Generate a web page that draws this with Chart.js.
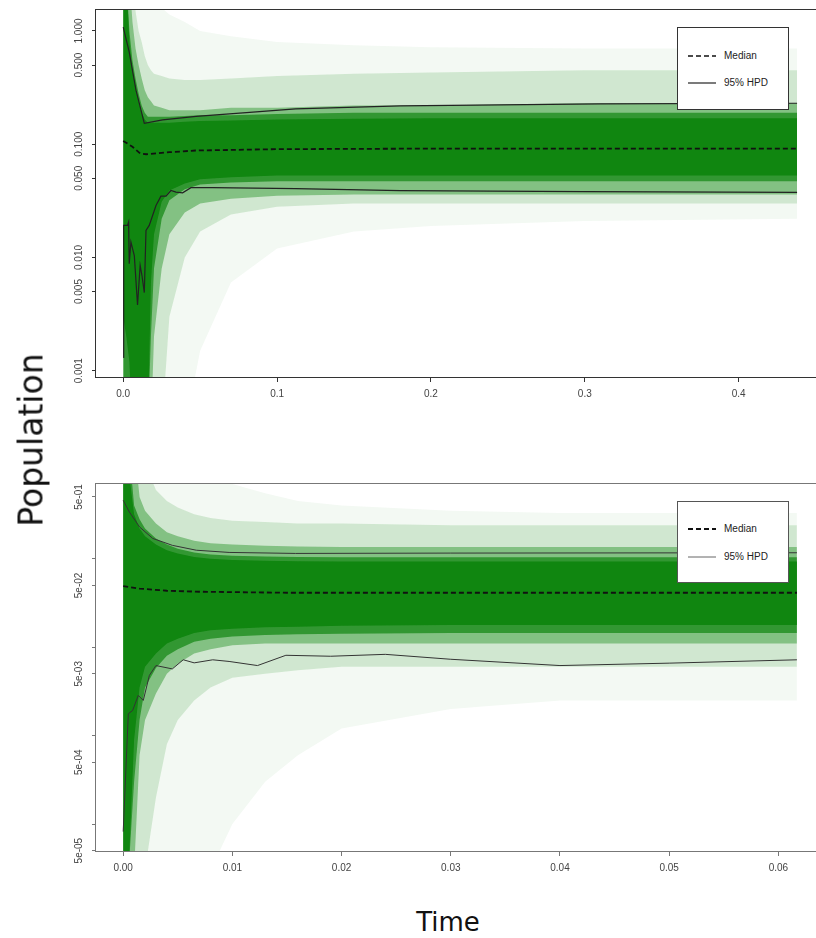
<!DOCTYPE html>
<html>
<head>
<meta charset="utf-8">
<script src="https://cdn.jsdelivr.net/npm/chart.js@4.4.1/dist/chart.umd.min.js"></script>
<style>
  body { margin: 0; width: 816px; height: 938px; overflow: hidden; position: relative; background: #fff; font-family: "Liberation Sans", Arial, sans-serif; }
  canvas { position: absolute; left: 0; }
  #cTop { top: 0; }
  #cBot { top: 470px; }
  .lg { position: absolute; left: 677px; width: 110px; background: #fff; border: 1px solid #333; font-size: 10px; color: #222; }
  .lg .row { position: absolute; left: 10px; height: 12px; line-height: 12px; }
  .lg svg { position: absolute; left: 0; top: 5px; }
  .lg span { position: absolute; left: 36px; white-space: nowrap; }
  .ttl { position: absolute; font-family: "DejaVu Sans", sans-serif; color: #111; white-space: nowrap; }
</style>
</head>
<body>
<canvas id="cTop" width="830" height="410"></canvas>
<canvas id="cBot" width="830" height="410"></canvas>

<div class="lg" style="top:27px;height:81px">
  <div class="row" style="top:22px"><svg width="28" height="3"><line x1="0" y1="1" x2="28" y2="1" stroke="#111" stroke-width="1.6" stroke-dasharray="5,3"/></svg><span>Median</span></div>
  <div class="row" style="top:49px"><svg width="28" height="3"><line x1="0" y1="1" x2="28" y2="1" stroke="#222" stroke-width="1.2"/></svg><span>95% HPD</span></div>
</div>
<div class="lg" style="top:501px;height:80px;border-color:#555">
  <div class="row" style="top:21px"><svg width="28" height="3"><line x1="0" y1="1" x2="28" y2="1" stroke="#111" stroke-width="1.8" stroke-dasharray="5,3"/></svg><span>Median</span></div>
  <div class="row" style="top:49px"><svg width="28" height="3"><line x1="0" y1="1" x2="28" y2="1" stroke="#666" stroke-width="1"/></svg><span>95% HPD</span></div>
</div>

<div class="ttl" style="left:31px;top:440px;font-size:33px;transform:translate(-50%,-50%) rotate(-90deg)">Population</div>
<div class="ttl" style="left:448px;top:922px;font-size:26px;transform:translate(-50%,-50%)">Time</div>

<script>
// ---- top panel (whole time range) ----
const topXTicks = [0, 0.1, 0.2, 0.3, 0.4];
const topXLbl   = ['0.0', '0.1', '0.2', '0.3', '0.4'];
const topYTicks = [0.001, 0.005, 0.01, 0.05, 0.1, 0.5, 1];
const topYLbl   = ['0.001', '0.005', '0.010', '0.050', '0.100', '0.500', '1.000'];

const topMedT = [0, 0.006, 0.011, 0.015, 0.03, 0.047, 0.1, 0.2, 0.3, 0.438];
const topMed  = [0.107, 0.095, 0.083, 0.0816, 0.085, 0.088, 0.0905, 0.0915, 0.0915, 0.0915];

const topHiT = [0, 0.0039, 0.0083, 0.0137, 0.0256, 0.0473, 0.08, 0.112, 0.18, 0.31, 0.438];
const topHi  = [1.08, 0.65, 0.30, 0.153, 0.164, 0.176, 0.19, 0.205, 0.218, 0.227, 0.23];

const topLoT = [0, 0.0003, 0.0028, 0.0035, 0.0039, 0.005, 0.0061, 0.0072, 0.0093, 0.011, 0.0122, 0.0137,
                0.0148, 0.0169, 0.0213, 0.0245, 0.0278, 0.031, 0.0343, 0.0386, 0.044, 0.058, 0.112, 0.18, 0.3, 0.438];
const topLo  = [0.00131, 0.0192, 0.0192, 0.0206, 0.0088, 0.0137, 0.0119, 0.0104, 0.0038, 0.0085, 0.0069, 0.0049,
                0.0173, 0.0192, 0.0288, 0.0348, 0.0348, 0.039, 0.0378, 0.0372, 0.0413, 0.0413, 0.0405, 0.039, 0.0381, 0.0376];

// density of the trajectories, as nested envelopes (darkest inside)
const topBandT   = [0, 0.002, 0.004, 0.006, 0.008, 0.010, 0.012, 0.014, 0.016, 0.018, 0.020, 0.025, 0.030, 0.040, 0.050, 0.070, 0.100, 0.150, 0.200, 0.300, 0.438];
const topCoreHi  = [3, 3, 0.8, 0.45, 0.32, 0.24, 0.19, 0.165, 0.155, 0.155, 0.155, 0.155, 0.155, 0.158, 0.16, 0.162, 0.165, 0.168, 0.17, 0.17, 0.17];
const topCoreLo  = [0.003, 0.002, 0.0012, 0.0003, 0.0003, 0.0003, 0.0003, 0.0003, 0.0003, 0.006, 0.016, 0.031, 0.039, 0.045, 0.049, 0.051, 0.053, 0.053, 0.053, 0.053, 0.053];
const topDenseHi = [3, 3, 1.0, 0.55, 0.38, 0.28, 0.22, 0.19, 0.175, 0.175, 0.175, 0.175, 0.175, 0.178, 0.18, 0.18, 0.185, 0.19, 0.19, 0.19, 0.19];
const topDenseLo = [0.0003, 0.0003, 0.0003, 0.0003, 0.0003, 0.0003, 0.0003, 0.0003, 0.0003, 0.002, 0.008, 0.022, 0.032, 0.04, 0.044, 0.046, 0.047, 0.047, 0.047, 0.047, 0.047];
const topMidHi   = [3, 3, 3, 1.2, 0.7, 0.5, 0.38, 0.3, 0.26, 0.24, 0.22, 0.21, 0.2, 0.2, 0.2, 0.21, 0.21, 0.22, 0.22, 0.23, 0.23];
const topMidLo   = [0.0003, 0.0003, 0.0003, 0.0003, 0.0003, 0.0003, 0.0003, 0.0003, 0.0003, 0.0003, 0.002, 0.008, 0.016, 0.025, 0.03, 0.033, 0.035, 0.036, 0.036, 0.036, 0.036];
const topLtHi    = [3, 3, 3, 3, 1.5, 1.0, 0.8, 0.6, 0.5, 0.45, 0.42, 0.4, 0.38, 0.37, 0.37, 0.38, 0.4, 0.42, 0.43, 0.45, 0.45];
const topLtLo    = [0.0003, 0.0003, 0.0003, 0.0003, 0.0003, 0.0003, 0.0003, 0.0003, 0.0003, 0.0003, 0.0003, 0.0003, 0.003, 0.01, 0.017, 0.024, 0.028, 0.03, 0.03, 0.03, 0.03];
const topFtHi    = [3, 3, 3, 3, 3, 3, 3, 3, 3, 3, 2, 1.6, 1.4, 1.2, 1.0, 0.9, 0.8, 0.75, 0.72, 0.7, 0.7];
const topFtLo    = [0.0003, 0.0003, 0.0003, 0.0003, 0.0003, 0.0003, 0.0003, 0.0003, 0.0003, 0.0003, 0.0003, 0.0003, 0.0003, 0.0003, 0.0015, 0.006, 0.012, 0.017, 0.019, 0.021, 0.022];

// ---- bottom panel (early times) ----
const botXTicks = [0, 0.01, 0.02, 0.03, 0.04, 0.05, 0.06];
const botXLbl   = ['0.00', '0.01', '0.02', '0.03', '0.04', '0.05', '0.06'];
const botYTicks = [5e-5, 1e-4, 5e-4, 1e-3, 5e-3, 1e-2, 5e-2, 1e-1, 5e-1];
const botYLbl   = ['5e-05', '', '5e-04', '', '5e-03', '', '5e-02', '', '5e-01'];

const botMedT = [0, 0.0015, 0.004, 0.007, 0.015, 0.03, 0.0617];
const botMed  = [0.049, 0.046, 0.0435, 0.0424, 0.0413, 0.0413, 0.0413];

const botHiT = [0, 0.00056, 0.0015, 0.0027, 0.0045, 0.0067, 0.0097, 0.0158, 0.03, 0.0617];
const botHi  = [0.459, 0.339, 0.229, 0.17, 0.142, 0.125, 0.118, 0.115, 0.116, 0.117];

const botLoT = [0, 0.00047, 0.00086, 0.00138, 0.00184, 0.0024, 0.003, 0.0045, 0.0055, 0.0065, 0.0082, 0.0097,
                0.0123, 0.0149, 0.019, 0.024, 0.03, 0.04, 0.05, 0.0617];
const botLo  = [0.000082, 0.00177, 0.00192, 0.00285, 0.0025, 0.0048, 0.0062, 0.00568, 0.00721, 0.00665, 0.0072, 0.0069,
                0.0062, 0.0081, 0.0079, 0.0083, 0.0073, 0.0062, 0.0066, 0.0072];

const botBandT   = [0, 0.0005, 0.001, 0.0015, 0.002, 0.003, 0.004, 0.005, 0.0065, 0.008, 0.010, 0.013, 0.016, 0.02, 0.03, 0.04, 0.05, 0.0617];
const botCoreHi  = [2, 1, 0.32, 0.22, 0.18, 0.145, 0.125, 0.115, 0.105, 0.1, 0.097, 0.095, 0.094, 0.093, 0.093, 0.093, 0.093, 0.093];
const botCoreLo  = [0.00003, 0.00003, 0.0009, 0.0035, 0.006, 0.0085, 0.011, 0.0125, 0.0145, 0.0155, 0.0162, 0.0168, 0.017, 0.0175, 0.0178, 0.0178, 0.0178, 0.0178];
const botDenseHi = [2, 2, 0.4, 0.28, 0.22, 0.17, 0.145, 0.13, 0.118, 0.112, 0.108, 0.106, 0.105, 0.104, 0.104, 0.104, 0.104, 0.104];
const botDenseLo = [0.00003, 0.00003, 0.0003, 0.0015, 0.0035, 0.0058, 0.008, 0.0095, 0.0115, 0.0125, 0.0132, 0.0137, 0.014, 0.0142, 0.0145, 0.0145, 0.0145, 0.0145];
const botMidHi   = [2, 2, 2, 0.5, 0.35, 0.25, 0.2, 0.18, 0.16, 0.15, 0.145, 0.14, 0.138, 0.136, 0.136, 0.136, 0.136, 0.136];
const botMidLo   = [0.00003, 0.00003, 0.00003, 0.0006, 0.0015, 0.003, 0.005, 0.0065, 0.0085, 0.0095, 0.0105, 0.011, 0.011, 0.011, 0.011, 0.011, 0.011, 0.011];
const botLtHi    = [2, 2, 2, 2, 1.2, 0.6, 0.45, 0.38, 0.32, 0.29, 0.27, 0.26, 0.25, 0.25, 0.24, 0.24, 0.24, 0.24];
const botLtLo    = [0.00003, 0.00003, 0.00003, 0.00003, 0.00003, 0.0002, 0.0008, 0.0015, 0.0025, 0.0035, 0.0045, 0.005, 0.0055, 0.006, 0.006, 0.006, 0.006, 0.006];
const botFtHi    = [2, 2, 2, 2, 2, 2, 2, 2, 1.5, 1.0, 0.7, 0.55, 0.45, 0.4, 0.35, 0.33, 0.33, 0.33];
const botFtLo    = [0.00003, 0.00003, 0.00003, 0.00003, 0.00003, 0.00003, 0.00003, 0.00003, 0.00003, 0.00003, 0.0001, 0.0003, 0.0006, 0.0012, 0.002, 0.0025, 0.0025, 0.0025];

const GREEN = '16,134,16';
const pts = (ts, vs) => ts.map((t, i) => ({ x: t, y: vs[i] }));

function band(t, hi, lo, alpha, order) {
  const clear = 'rgba(0,0,0,0)';
  return [
    { data: pts(t, hi), fill: '+1', backgroundColor: `rgba(${GREEN},${alpha})`, borderColor: clear, borderWidth: 1, pointRadius: 0, order },
    { data: pts(t, lo), fill: false, borderColor: clear, borderWidth: 1, pointRadius: 0, order },
  ];
}

function line(t, v, color, width, dash) {
  return { data: pts(t, v), fill: false, borderColor: color, borderWidth: width, borderDash: dash || [], pointRadius: 0, tension: 0, order: 0 };
}

const boxPlugin = {
  id: 'box',
  afterDatasetsDraw(chart, args, opts) {
    const { ctx, chartArea: a } = chart;
    ctx.save();
    ctx.strokeStyle = opts.color;
    ctx.lineWidth = 1;
    ctx.strokeRect(Math.round(a.left) - 0.5, Math.round(a.top) + 0.5, Math.round(a.right - a.left), Math.round(a.bottom - a.top));
    ctx.restore();
  }
};

function makeChart(id, cfg) {
  const font = { family: '"Liberation Sans", Arial, sans-serif', size: 10 };
  return new Chart(document.getElementById(id), {
    type: 'line',
    data: { datasets: cfg.datasets },
    plugins: [boxPlugin],
    options: {
      responsive: false, animation: false, devicePixelRatio: 1,
      layout: { padding: { top: cfg.padTop, right: 6, left: 0, bottom: 0 } },
      plugins: { legend: { display: false }, tooltip: { enabled: false }, box: { color: cfg.axisColor } },
      scales: {
        x: {
          type: 'linear', min: cfg.xMin, max: cfg.xMax,
          afterBuildTicks: s => { s.ticks = cfg.xTicks.map(v => ({ value: v })); },
          afterFit: s => { s.height = cfg.xAxisH; },
          ticks: { autoSkip: false, maxRotation: 0, padding: 6, color: '#444', font, callback: (v, i) => cfg.xLbl[i] },
          grid: { drawOnChartArea: false, tickLength: 5, color: cfg.axisColor },
          border: { display: false },
        },
        y: {
          type: 'logarithmic', min: cfg.yMin, max: cfg.yMax,
          afterBuildTicks: s => { s.ticks = cfg.yTicks.map(v => ({ value: v })); },
          afterFit: s => { s.width = 96; },
          ticks: { autoSkip: false, minRotation: 90, maxRotation: 90, crossAlign: 'center', padding: 0, color: '#444', font, callback: (v, i) => cfg.yLbl[i] },
          grid: { drawOnChartArea: false, tickLength: 4, color: cfg.axisColor },
          border: { display: false },
        },
      },
    },
  });
}

makeChart('cTop', {
  padTop: 9, xAxisH: 33, axisColor: '#333',
  xMin: -0.0177, xMax: 0.4555, yMin: 0.00088, yMax: 1.564,
  xTicks: topXTicks, xLbl: topXLbl, yTicks: topYTicks, yLbl: topYLbl,
  datasets: [
    line(topMedT, topMed, '#111', 1.8, [5, 3]),
    line(topHiT, topHi, '#222', 1.2),
    line(topLoT, topLo, '#222', 1.2),
    ...band(topBandT, topCoreHi, topCoreLo, 1, 1),
    ...band(topBandT, topDenseHi, topDenseLo, 0.7, 2),
    ...band(topBandT, topMidHi, topMidLo, 0.4, 3),
    ...band(topBandT, topLtHi, topLtLo, 0.15, 4),
    ...band(topBandT, topFtHi, topFtLo, 0.05, 5),
  ],
});

makeChart('cBot', {
  padTop: 13, xAxisH: 29, axisColor: '#777',
  xMin: -0.00249, xMax: 0.06418, yMin: 4.95e-5, yMax: 0.72,
  xTicks: botXTicks, xLbl: botXLbl, yTicks: botYTicks, yLbl: botYLbl,
  datasets: [
    line(botMedT, botMed, '#111', 1.8, [5, 3]),
    line(botHiT, botHi, '#333', 1),
    line(botLoT, botLo, '#333', 1),
    ...band(botBandT, botCoreHi, botCoreLo, 1, 1),
    ...band(botBandT, botDenseHi, botDenseLo, 0.7, 2),
    ...band(botBandT, botMidHi, botMidLo, 0.4, 3),
    ...band(botBandT, botLtHi, botLtLo, 0.15, 4),
    ...band(botBandT, botFtHi, botFtLo, 0.05, 5),
  ],
});
</script>
</body>
</html>
